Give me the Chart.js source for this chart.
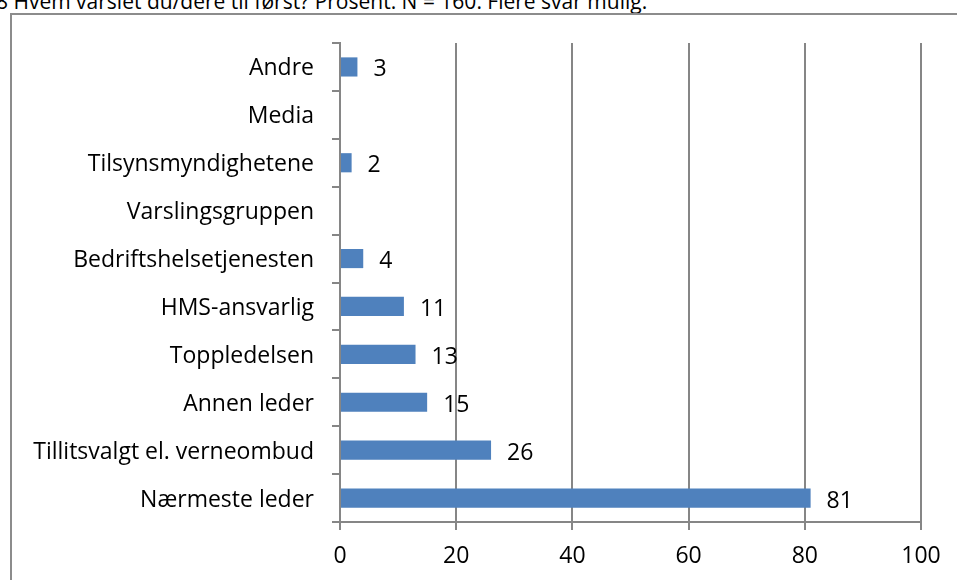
<!DOCTYPE html>
<html>
<head>
<meta charset="utf-8">
<script src="https://cdn.jsdelivr.net/npm/chart.js@4"></script>
<style>
  html, body { margin: 0; padding: 0; background: #fff; overflow: hidden; }
  #wrap { position: relative; width: 957px; height: 580px; }
  #title { position: absolute; left: -4px; top: -13px; font: 21px "Open Sans", sans-serif; color: #000; white-space: nowrap; }
  #frame { position: absolute; left: 10px; top: 13px; width: 960px; height: 580px; border: 2px solid #8c8c8c; box-sizing: border-box; }
  canvas { position: absolute; left: 0; top: 0; }
</style>
</head>
<body>
<div id="wrap">
  <div id="title">8 Hvem varslet du/dere til først? Prosent. N = 160. Flere svar mulig.</div>
  <div id="frame"></div>
  <canvas id="chart" width="957" height="580"></canvas>
</div>
<script>
// Answer categories, top to bottom
const categories = [
  'Andre',
  'Media',
  'Tilsynsmyndighetene',
  'Varslingsgruppen',
  'Bedriftshelsetjenesten',
  'HMS-ansvarlig',
  'Toppledelsen',
  'Annen leder',
  'Tillitsvalgt el. verneombud',
  'Nærmeste leder'
];

// Percent of respondents (null = nobody)
const percents = [3, null, 2, null, 4, 11, 13, 15, 26, 81];

const xTicks = [0, 20, 40, 60, 80, 100];

const font = '"Open Sans", sans-serif';
const fontSize = 23;

// Writes the value a little to the right of each bar
const valueLabels = {
  id: 'valueLabels',
  afterDatasetsDraw(chart) {
    const ctx = chart.ctx;
    const meta = chart.getDatasetMeta(0);
    ctx.save();
    ctx.font = fontSize + 'px ' + font;
    ctx.fillStyle = '#000';
    ctx.textBaseline = 'middle';
    meta.data.forEach((bar, i) => {
      const v = percents[i];
      if (v == null) return;
      ctx.fillText(String(v), bar.x + 16, bar.y + 3);
    });
    ctx.restore();
  }
};

new Chart(document.getElementById('chart'), {
  type: 'bar',
  data: {
    labels: categories,
    datasets: [{
      data: percents,
      backgroundColor: '#4f81bd',
      borderWidth: 0,
      barPercentage: 0.4,
      categoryPercentage: 1
    }]
  },
  options: {
    indexAxis: 'y',
    responsive: false,
    animation: false,
    layout: { padding: { top: 43, right: 36, left: 0, bottom: 0 } },
    plugins: { legend: { display: false }, tooltip: { enabled: false } },
    scales: {
      x: {
        min: 0,
        max: 100,
        afterBuildTicks(scale) { scale.ticks = xTicks.map(v => ({ value: v })); },
        afterFit(scale) { scale.height = 58; },
        grid: { color: '#868686', lineWidth: 2, tickLength: 8, drawTicks: true },
        border: { color: '#868686', width: 2 },
        ticks: { color: '#000', font: { family: font, size: fontSize }, padding: 13 }
      },
      y: {
        afterFit(scale) { scale.width = 340; },
        grid: { offset: true, drawOnChartArea: false, color: '#868686', lineWidth: 2, tickLength: 8 },
        border: { color: '#868686', width: 2 },
        ticks: { color: '#000', font: { family: font, size: fontSize }, padding: 18, labelOffset: 2 }
      }
    }
  },
  plugins: [valueLabels]
});
</script>
</body>
</html>
